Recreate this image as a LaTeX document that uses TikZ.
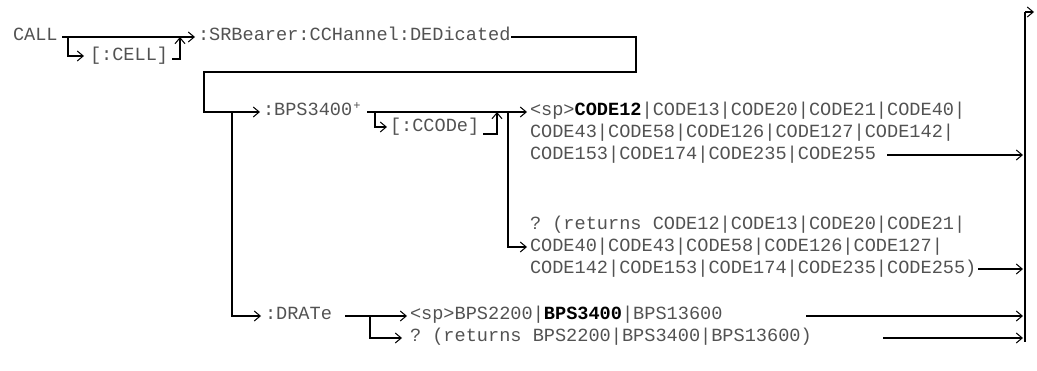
\documentclass[tikz,border=0pt]{standalone}
\usepackage{fontspec}
\setmonofont{Liberation Mono}
\usetikzlibrary{arrows.meta}
\definecolor{txt}{RGB}{82,82,82}
\tikzset{
  lbl/.style={anchor=base west, inner sep=0pt, outer sep=0pt, text=txt,
    font=\ttfamily\fontsize{18.6}{22}\selectfont},
  conn/.style={line width=1.1pt, draw=black},
  arr/.style={conn, -{Straight Barb[length=6pt,width=10pt,line width=1pt]}},
}
\newcommand{\bk}[1]{\textcolor{black}{\textbf{#1}}}
\begin{document}
\begin{tikzpicture}[x=1pt,y=-1pt]
\useasboundingbox (0,0) rectangle (1037,371);
% texts
\node[lbl] (call)  at (13,41)  {CALL};
\node[lbl] (cell)  at (90,61)  {[:CELL]};
\node[lbl] (srb)   at (198,41) {:SRBearer:CCHannel:DEDicated};
\node[lbl] (bps)   at (263,116) {:BPS3400\kern1pt\raisebox{6pt}{\fontsize{12}{12}\selectfont+}};
\node[lbl] (ccode) at (390,132) {[:CCODe]};
\node[lbl] (c1) at (530,116) {<sp>\bk{CODE12}|CODE13|CODE20|CODE21|CODE40|};
\node[lbl] (c2) at (530,138) {CODE43|CODE58|CODE126|CODE127|CODE142|};
\node[lbl] (c3) at (530,160) {CODE153|CODE174|CODE235|CODE255};
\node[lbl] (q1) at (530,230) {?\ (returns CODE12|CODE13|CODE20|CODE21|};
\node[lbl] (q2) at (530,252) {CODE40|CODE43|CODE58|CODE126|CODE127|};
\node[lbl] (q3) at (530,274) {CODE142|CODE153|CODE174|CODE235|CODE255)};
\node[lbl] (drate) at (265,320) {:DRATe};
\node[lbl] (d1) at (410,320) {<sp>BPS2200|\bk{BPS3400}|BPS13600};
\node[lbl] (d2) at (410,342) {?\ (returns BPS2200|BPS3400|BPS13600)};
% junction coordinates
\coordinate (a0) at (62,37);   \coordinate (a1) at (195,37);
\coordinate (b0) at (68,37);   \coordinate (b1) at (68,56);   \coordinate (b2) at (84,56);
\coordinate (b3) at (172,59);  \coordinate (b4) at (180,59);  \coordinate (b5) at (180,37);
\coordinate (s0) at (511,37);  \coordinate (s1) at (636,37);  \coordinate (s2) at (636,72);
\coordinate (s3) at (204,72);  \coordinate (s4) at (204,112); \coordinate (s5) at (260,112);
\coordinate (p0) at (367,112); \coordinate (p1) at (527,112);
\coordinate (k0) at (375,112); \coordinate (k1) at (375,127); \coordinate (k2) at (387,127);
\coordinate (k3) at (483,134); \coordinate (k4) at (497,134); \coordinate (k5) at (497,112);
\coordinate (m0) at (508,112); \coordinate (m1) at (508,247); \coordinate (m2) at (527,247);
\coordinate (e1) at (887,155); \coordinate (f1) at (1023,155);
\coordinate (e2) at (978,269); \coordinate (f2) at (1023,269);
\coordinate (r0) at (232,112); \coordinate (r1) at (232,316); \coordinate (r2) at (261,316);
\coordinate (t0) at (345,316); \coordinate (t1) at (407,316);
\coordinate (u0) at (370,316); \coordinate (u1) at (370,338); \coordinate (u2) at (402,338);
\coordinate (e3) at (806,316); \coordinate (f3) at (1023,316);
\coordinate (e4) at (883,338); \coordinate (f4) at (1023,338);
\coordinate (z0) at (1025,12); \coordinate (z1) at (1025,342); \coordinate (z2) at (1034,12);
% connectors
\draw[arr] (a0) -- (a1);
\draw[arr] (b0) -- (b1) -- (b2);
\draw[arr] (b3) -- (b4) -- (b5);
\draw[arr] (s0) -- (s1) -- (s2) -- (s3) -- (s4) -- (s5);
\draw[arr] (p0) -- (p1);
\draw[arr] (k0) -- (k1) -- (k2);
\draw[arr] (k3) -- (k4) -- (k5);
\draw[arr] (m0) -- (m1) -- (m2);
\draw[arr] (e1) -- (f1);
\draw[arr] (e2) -- (f2);
\draw[arr] (r0) -- (r1) -- (r2);
\draw[arr] (t0) -- (t1);
\draw[arr] (u0) -- (u1) -- (u2);
\draw[arr] (e3) -- (f3);
\draw[arr] (e4) -- (f4);
\draw[conn] (z1) -- (z0);
\draw[arr] (z0) -- (z2);
\end{tikzpicture}
\end{document}
